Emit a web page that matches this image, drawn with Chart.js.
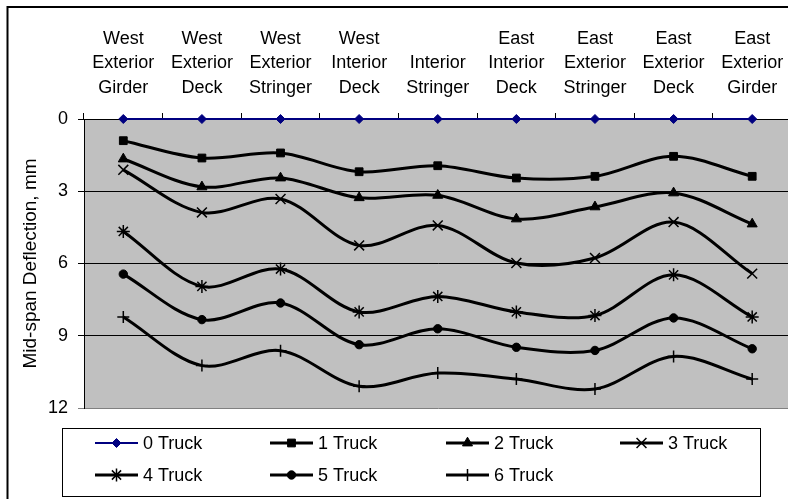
<!DOCTYPE html>
<html>
<head>
<meta charset="utf-8">
<script src="https://cdn.jsdelivr.net/npm/chart.js@4/dist/chart.umd.min.js"></script>
<style>
  html, body { margin: 0; padding: 0; background: #fff; overflow: hidden; }
  #wrap { width: 800px; height: 499px; }
</style>
</head>
<body>
<div id="wrap"><canvas id="c" width="800" height="499"></canvas></div>
<script>
// Girder / deck / stringer locations across the bridge section
const locations = [
  ['West', 'Exterior', 'Girder'],
  ['West', 'Exterior', 'Deck'],
  ['West', 'Exterior', 'Stringer'],
  ['West', 'Interior', 'Deck'],
  ['Interior', 'Stringer'],
  ['East', 'Interior', 'Deck'],
  ['East', 'Exterior', 'Stringer'],
  ['East', 'Exterior', 'Deck'],
  ['East', 'Exterior', 'Girder']
];

// Mid-span deflection (mm) for each truck load case
const truck0 = [0, 0, 0, 0, 0, 0, 0, 0, 0];
const truck1 = [0.90, 1.62, 1.41, 2.19, 1.94, 2.45, 2.38, 1.55, 2.38];
const truck2 = [1.66, 2.82, 2.45, 3.27, 3.17, 4.15, 3.65, 3.07, 4.36];
const truck3 = [2.11, 3.88, 3.32, 5.25, 4.42, 5.98, 5.77, 4.28, 6.42];
const truck4 = [4.67, 6.95, 6.23, 8.01, 7.37, 8.01, 8.16, 6.47, 8.22];
const truck5 = [6.44, 8.33, 7.64, 9.37, 8.71, 9.48, 9.61, 8.26, 9.54];
const truck6 = [8.22, 10.24, 9.62, 11.10, 10.55, 10.80, 11.21, 9.86, 10.80];

const seriesNames = ['0 Truck', '1 Truck', '2 Truck', '3 Truck', '4 Truck', '5 Truck', '6 Truck'];
const yTicks = [0, 3, 6, 9, 12];

const FONT = 'Liberation Sans, Arial, sans-serif';

const styles = [
  { color: '#000080', width: 2, point: 'rectRot', r: 4.5, pw: 1 },
  { color: '#000000', width: 3, point: 'rect', r: 5.5, pw: 1 },
  { color: '#000000', width: 3, point: 'triangle', r: 5.8, pw: 1 },
  { color: '#000000', width: 3, point: 'crossRot', r: 7, pw: 1.5 },
  { color: '#000000', width: 3, point: 'star', r: 6.5, pw: 1.5 },
  { color: '#000000', width: 3, point: 'circle', r: 4.2, pw: 1 },
  { color: '#000000', width: 3, point: 'cross', r: 6, pw: 1.5 }
];
const values = [truck0, truck1, truck2, truck3, truck4, truck5, truck6];

const datasets = values.map((v, i) => ({
  label: seriesNames[i],
  data: v,
  borderColor: styles[i].color,
  backgroundColor: styles[i].color,
  borderWidth: styles[i].width,
  pointStyle: styles[i].point,
  pointRadius: styles[i].r,
  pointHoverRadius: styles[i].r,
  pointBorderWidth: styles[i].pw,
  pointBorderColor: styles[i].color,
  pointBackgroundColor: styles[i].color,
  tension: i === 0 ? 0 : 0.33,
  clip: false,
  order: 7 - i
}));

// White page, outer frame and grey plot background
const backdrop = {
  id: 'backdrop',
  beforeDraw(chart) {
    const { ctx, chartArea: a } = chart;
    ctx.save();
    ctx.fillStyle = '#ffffff';
    ctx.fillRect(0, 0, chart.width, chart.height);
    ctx.strokeStyle = '#000000';
    ctx.lineWidth = 2;
    ctx.strokeRect(7.5, 7, chart.width + 20, chart.height + 20);
    ctx.fillStyle = '#c0c0c0';
    ctx.fillRect(a.left, a.top, a.right - a.left, a.bottom - a.top);
    ctx.restore();
  }
};

// Boxed legend laid out in four columns
const boxLegend = {
  id: 'boxLegend',
  afterDraw(chart) {
    const { ctx } = chart;
    const box = { l: 62.5, t: 428.5, r: 760.5, b: 496.5 };
    ctx.save();
    ctx.fillStyle = '#ffffff';
    ctx.fillRect(box.l, box.t, box.r - box.l, box.b - box.t);
    ctx.strokeStyle = '#000000';
    ctx.lineWidth = 1;
    ctx.strokeRect(box.l, box.t, box.r - box.l, box.b - box.t);
    const cols = [95, 270, 446, 620];
    const rows = [443, 475];
    const lineLen = 43;
    chart.data.datasets.forEach((ds, i) => {
      const x = cols[i % 4];
      const y = rows[Math.floor(i / 4)];
      ctx.strokeStyle = ds.borderColor;
      ctx.lineWidth = ds.borderWidth;
      ctx.beginPath();
      ctx.moveTo(x, y);
      ctx.lineTo(x + lineLen, y);
      ctx.stroke();
      ctx.fillStyle = ds.pointBackgroundColor;
      ctx.lineWidth = ds.pointBorderWidth;
      Chart.helpers.drawPoint(ctx, {
        pointStyle: ds.pointStyle,
        radius: ds.pointRadius,
        rotation: 0,
        borderWidth: ds.pointBorderWidth
      }, x + lineLen / 2, y);
      ctx.fillStyle = '#000000';
      ctx.font = '18px ' + FONT;
      ctx.textAlign = 'left';
      ctx.textBaseline = 'middle';
      ctx.fillText(ds.label, x + lineLen + 5, y + 1);
    });
    ctx.restore();
  }
};

new Chart(document.getElementById('c'), {
  type: 'line',
  data: { labels: locations, datasets },
  plugins: [backdrop, boxLegend],
  options: {
    responsive: false,
    animation: false,
    layout: { padding: { left: 0, top: 0, right: 7, bottom: 91 } },
    plugins: { legend: { display: false }, tooltip: { enabled: false } },
    scales: {
      x: {
        position: 'top',
        offset: true,
        afterFit(s) { s.height = 119; },
        grid: {
          offset: true,
          drawOnChartArea: false,
          drawTicks: true,
          tickLength: 6,
          color: '#000000'
        },
        border: { display: true, color: '#000000', width: 1 },
        ticks: {
          color: '#000000',
          font: { family: FONT, size: 18, lineHeight: 1.36 },
          padding: 13,
          maxRotation: 0,
          autoSkip: false
        }
      },
      y: {
        reverse: true,
        min: 0,
        max: 12,
        afterFit(s) { s.width = 84; },
        afterBuildTicks(s) { s.ticks = yTicks.map(v => ({ value: v })); },
        grid: {
          drawTicks: true,
          tickLength: 6,
          color: ctx => (ctx.tick && ctx.tick.value === 12 ? '#808080' : '#000000'),
          lineWidth: 1
        },
        border: { display: true, color: '#000000', width: 1 },
        ticks: {
          color: '#000000',
          font: { family: FONT, size: 18 },
          padding: 10
        },
        title: {
          display: true,
          text: 'Mid-span Deflection, mm',
          color: '#000000',
          font: { family: FONT, size: 19 },
          padding: { top: 19, bottom: 0 }
        }
      }
    }
  }
});
</script>
</body>
</html>
